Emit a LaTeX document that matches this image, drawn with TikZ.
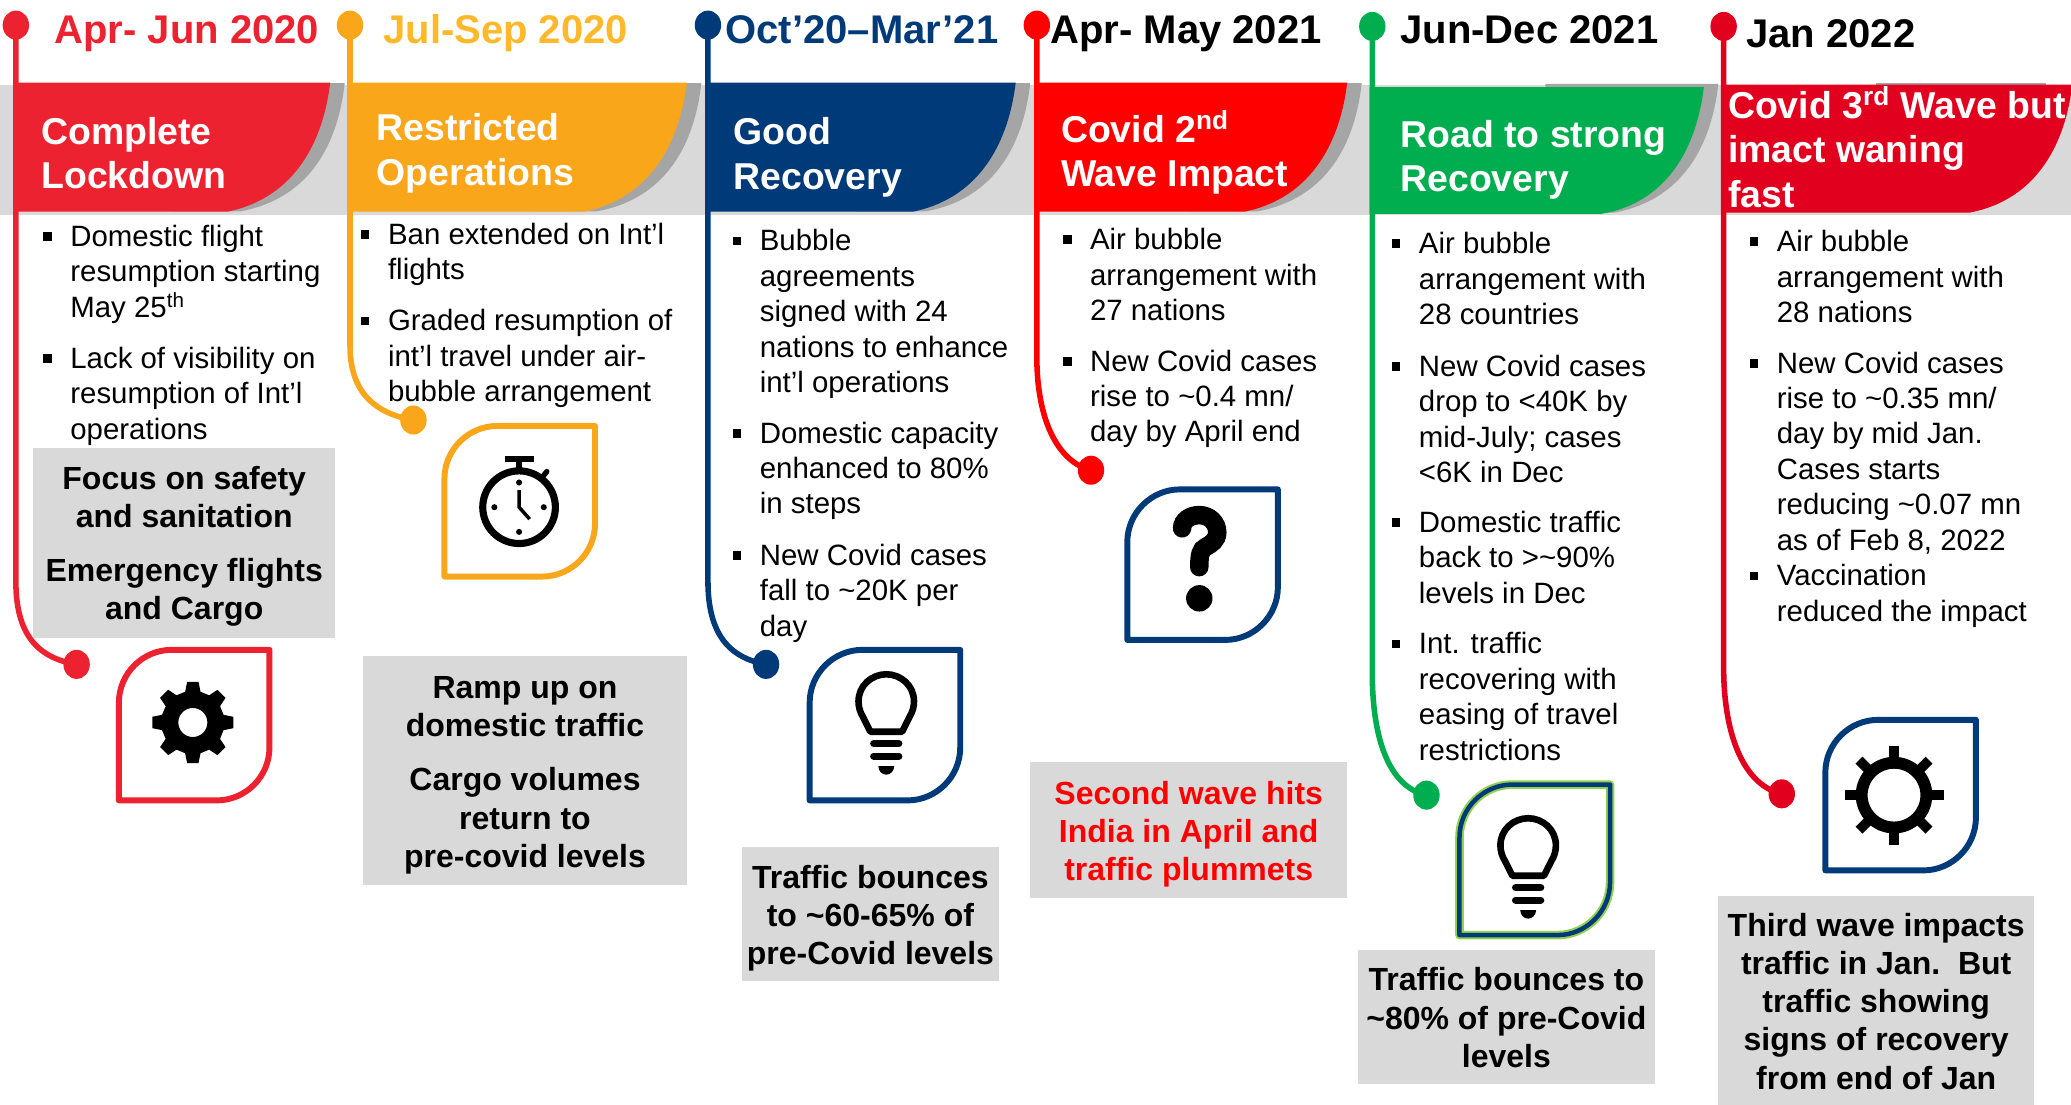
\documentclass[tikz,border=0pt]{standalone}
\usepackage{fontspec}
\setmainfont{Liberation Sans}
\usetikzlibrary{shapes.geometric,calc}
\definecolor{cRed}{HTML}{ED2230}
\definecolor{cYel}{HTML}{FAA61A}
\definecolor{cYelT}{HTML}{FDB92B}
\definecolor{cNavy}{HTML}{003A78}
\definecolor{cPure}{HTML}{FF0000}
\definecolor{cGrn}{HTML}{00AE4F}
\definecolor{cLime}{HTML}{92D050}
\definecolor{cCrim}{HTML}{E2001F}
\definecolor{cBand}{HTML}{D9D9D9}
\definecolor{cShad}{HTML}{A5A5A5}
\def\ux{0.6604pt}
\newcommand\tld{\textasciitilde}
\newcommand\tp[1]{\rule{0pt}{#1pt}}
\tikzset{
  dotnode/.style={shape=ellipse,inner sep=0pt,minimum width=20*\ux,minimum height=22*\ux},
  dlabel/.style={font=\fontsize{20}{24}\selectfont\bfseries,anchor=base west,inner sep=0pt},
  htext/.style={font=\fontsize{18.7}{22.3}\selectfont\bfseries,text=white,anchor=west,align=left,inner sep=0pt},
  btext/.style={font=\fontsize{14.7}{17.7}\selectfont,anchor=base west,inner sep=0pt},
  bsq/.style={fill=black,inner sep=0pt,minimum width=6.5*\ux,minimum height=6.5*\ux},
  gbox/.style={fill=cBand,font=\fontsize{16}{19.15}\selectfont\bfseries,align=center,inner sep=0pt},
}
% timeline: name,colour,x,ytop,xend,yend,ystart of bend, c1y, c2x, c2y
\newcommand\tline[9]{%
  \node[dotnode,fill=#2] (#1a) at (#3,#4) {};
  \node[dotnode,fill=#2] (#1b) at (#5,#6) {};
  \draw[#2,line width=4.2*\ux] (#1a.center) -- (#3,#7) .. controls (#3,#8) and (#9) .. (#1b.center);
}
% header
\newcommand\hdrbody[5]{\fill[#1] (#2,#4) -- (#3,#4) .. controls (#3-5,#4+42) and (#3-25,#4+87) .. (#3-78,#5) -- (#2,#5) -- cycle;}
\newcommand\hdrshad[3]{\fill[cShad] (#1-120,#2) -- (#1+11,#2) .. controls (#1+6,#2+44) and (#1-14,#3-10) .. (#1-68,#3) -- (#1-120,#3) -- cycle;}
% leaf frame: colour, width, x0, y0
\newcommand\leaf[4]{%
  \begin{scope}[shift={(#3,#4)}]
  \draw[#1,line width=#2*\ux,line join=round] (0,114) -- (0,40) .. controls (0,18) and (18,0) .. (40,0) -- (114,0) -- (114,74) .. controls (114,96) and (96,114) .. (74,114) -- cycle;
  \end{scope}}
% bullet item
\newcommand\blt[4]{%
  \node[bsq] (#1s) at (#2-17,#3) {};
  \node[btext] (#1) at (#2,#3+7.5) {\begin{tabular}[t]{@{}l@{}}#4\end{tabular}};
}
\newcommand\bulbicon[2]{%
  \begin{scope}[shift={(#1,#2)}]
  \draw[black,line width=5*\ux,line join=round] (-12,22) -- (-17.5,11) .. controls (-20,7) and (-21,3) .. (-21,-1) .. controls (-21,-13) and (-11,-21.5) .. (0,-21.5) .. controls (11,-21.5) and (21,-13) .. (21,-1) .. controls (21,3) and (20,7) .. (17.5,11) -- (12,22) -- cycle;
  \draw[black,line width=5.5*\ux,line cap=round] (-9.5,31) -- (9.5,31);
  \draw[black,line width=5.5*\ux,line cap=round] (-9.5,40.5) -- (9.5,40.5);
  \fill[black] (-6,48) -- (6,48) .. controls (6,52) and (3,54.5) .. (0,54.5) .. controls (-3,54.5) and (-6,52) .. (-6,48) -- cycle;
  \end{scope}}
\begin{document}
\begin{tikzpicture}[x=\ux,y=-\ux]
\useasboundingbox (0,0) rectangle (1568,835.9);
% band
\fill[cBand] (0,64.4) rectangle (1568,162.8);
% headers
\hdrshad{250}{63}{160}\hdrbody{cRed}{12}{250}{62.5}{160.3}
\hdrshad{520}{63}{160}\hdrbody{cYel}{264}{520}{62.5}{160.3}
\hdrshad{769}{63}{160}\hdrbody{cNavy}{535}{769}{62.5}{160.3}
\hdrshad{1020}{63}{160}\hdrbody{cPure}{784}{1020}{62.5}{160.3}
\hdrshad{1290}{63.5}{161}\hdrbody{cGrn}{1037}{1290}{66}{162}
\fill[cShad] (1420,63.2) rectangle (1549,64.4);
\hdrbody{cCrim}{1305}{1569}{64}{161}
% timelines
\tline{t1}{cRed}{12}{19}{58}{503}{440}{480}{28,498}
\tline{t2}{cYel}{265}{19}{313}{318}{262}{296}{283,313}
\tline{t3}{cNavy}{536}{19}{580}{503}{440}{480}{552,498}
\tline{t4}{cPure}{785}{19}{826}{356}{270}{320}{802,350}
\tline{t5}{cGrn}{1039}{20}{1080}{602}{510}{560}{1052,596}
\tline{t6}{cCrim}{1305}{20}{1349}{601}{505}{560}{1322,595}
% dates
\node[dlabel,text=cRed] (d1) at (41,33) {Apr- Jun 2020};
\node[dlabel,text=cYelT] (d2) at (290,33) {Jul-Sep 2020};
\node[dlabel,text=cNavy] (d3) at (549,33) {Oct’20–Mar’21};
\node[dlabel,text=black] (d4) at (795,33) {Apr- May 2021};
\node[dlabel,text=black] (d5) at (1060,33) {Jun-Dec 2021};
\node[dlabel,text=black] (d6) at (1322,36) {Jan 2022};
% header text
\node[htext] (h1) at (31,116) {Complete\\Lockdown};
\node[htext] (h2) at (285,116) {Restricted\\Operations};
\node[htext] (h3) at (555,119) {Good\\Recovery};
\node[htext] (h4) at (803,115.5) {Covid 2\textsuperscript{nd}\\Wave Impact};
\node[htext] (h5) at (1060,121) {Road to strong\\Recovery};
\node[htext] (h6) at (1308,111.5) {Covid 3\textsuperscript{rd} Wave but\\imact waning\\fast};
% bullets
\blt{a1}{53}{179}{Domestic flight\\resumption starting\\May 25\textsuperscript{th}}
\blt{a2}{53}{271.5}{Lack of visibility on\\resumption of Int’l\\operations}
\blt{b1}{293.5}{177.5}{Ban extended on Int’l\\flights}
\blt{b2}{293.5}{243}{Graded resumption of\\int’l travel under air-\\bubble arrangement}
\blt{c1}{575}{182.5}{Bubble\\agreements\\signed with 24\\nations to enhance\\int’l operations}
\blt{c2}{575}{328}{Domestic capacity\\enhanced to 80\%\\in steps}
\blt{c3}{575}{420.5}{New Covid cases\\fall to \tld20K per\\day}
\blt{e1}{825}{181.5}{Air bubble\\arrangement with\\27 nations}
\blt{e2}{825}{273.5}{New Covid cases\\rise to \tld0.4 mn/\\day by April end}
\blt{f1}{1074}{184.5}{Air bubble\\arrangement with\\28 countries}
\blt{f2}{1074}{277.5}{New Covid cases\\drop to <40K by\\mid-July; cases\\<6K in Dec}
\blt{f3}{1074}{395.5}{Domestic traffic\\back to >\tld90\%\\levels in Dec}
\blt{f4}{1074}{487.5}{Int. traffic\\recovering with\\easing of travel\\restrictions}
\blt{g1}{1345}{183}{Air bubble\\arrangement with\\28 nations}
\blt{g2}{1345}{275}{New Covid cases\\rise to \tld0.35 mn/\\day by mid Jan.\\Cases starts\\reducing \tld0.07 mn\\as of Feb 8, 2022}
\blt{g3}{1345}{436}{Vaccination\\reduced the impact}
% grey boxes
\node[gbox,minimum width=229*\ux,minimum height=144*\ux] (k1) at (139.5,411) {\tp{15}Focus on safety\\and sanitation\\[7.9pt]Emergency flights\\and Cargo};
\node[gbox,minimum width=245*\ux,minimum height=173*\ux] (k2) at (397.5,583.5) {\tp{15.7}Ramp up on\\domestic traffic\\[7.9pt]Cargo volumes\\return to\\pre-covid levels};
\node[gbox,minimum width=194*\ux,minimum height=102*\ux] (k3) at (659,692) {\tp{15.7}Traffic bounces\\to \tld60-65\% of\\pre-Covid levels};
\node[gbox,minimum width=240*\ux,minimum height=103*\ux,text=cPure] (k4) at (900,628.5) {\tp{15.7}Second wave hits\\India in April and\\traffic plummets};
\node[gbox,minimum width=225*\ux,minimum height=102*\ux] (k5) at (1140.5,770) {\tp{12.4}Traffic bounces to\\\tld80\% of pre-Covid\\levels};
\node[gbox,minimum width=239*\ux,minimum height=160*\ux] (k6) at (1420.5,758) {Third wave impacts\\traffic in Jan.\ \ But\\traffic showing\\signs of recovery\\from end of Jan};
% leaf frames
\leaf{cRed}{4.5}{90}{492}
\leaf{cYel}{4.5}{336.5}{322.5}
\leaf{cNavy}{4.5}{613}{492}
\leaf{cNavy}{4.5}{853.5}{370.5}
\leaf{cLime}{6.5}{1105}{594}
\leaf{cNavy}{3.4}{1105}{594}
\leaf{cNavy}{4.5}{1382}{545}
% solid gear
\begin{scope}[shift={(146,547)}]
\fill[black,even odd rule] (-8:31) \foreach \a in {0,45,...,315} { -- (\a-8:31) -- (\a+8:31) -- (\a+14:24) -- (\a+31:24)} -- cycle (0,0) circle (11);
\end{scope}
% stopwatch
\begin{scope}[shift={(393,384)}]
\draw[black,line width=5.4*\ux] (0,0) circle (27.5);
\fill[black] (-11,-39) rectangle (11,-34);
\fill[black] (-2.2,-35) rectangle (2.2,-28);
\draw[black,line width=4*\ux,line cap=round] (17,-22) -- (21,-27);
\draw[black,line width=2.6*\ux] (0,-13) -- (0,0) -- (8,9);
\foreach \a in {0,90,180,270} {\fill[black] (\a:18.7) circle (2.3);}
\end{scope}
% bulbs
\bulbicon{671}{532}
\bulbicon{1157}{641}
% question mark
\begin{scope}[shift={(908,405)}]
\draw[black,line width=14*\ux,line cap=round] (-13,-5) .. controls (-13,-11) and (-7,-15) .. (0,-15) .. controls (8,-15) and (13.6,-9) .. (13.6,-2) .. controls (13.6,4) and (9,7) .. (5,9) .. controls (1,11) and (0,15) .. (0,24.4);
\fill[black] (0,48) circle (10);
\end{scope}
% outline gear
\begin{scope}[shift={(1434,602)}]
\draw[black,line width=9*\ux] (0,0) circle (24.5);
\foreach \a in {0,45,...,315} {\draw[black,line width=7.4*\ux] (\a:24) -- (\a:37.5);}
\end{scope}
\end{tikzpicture}
\end{document}
